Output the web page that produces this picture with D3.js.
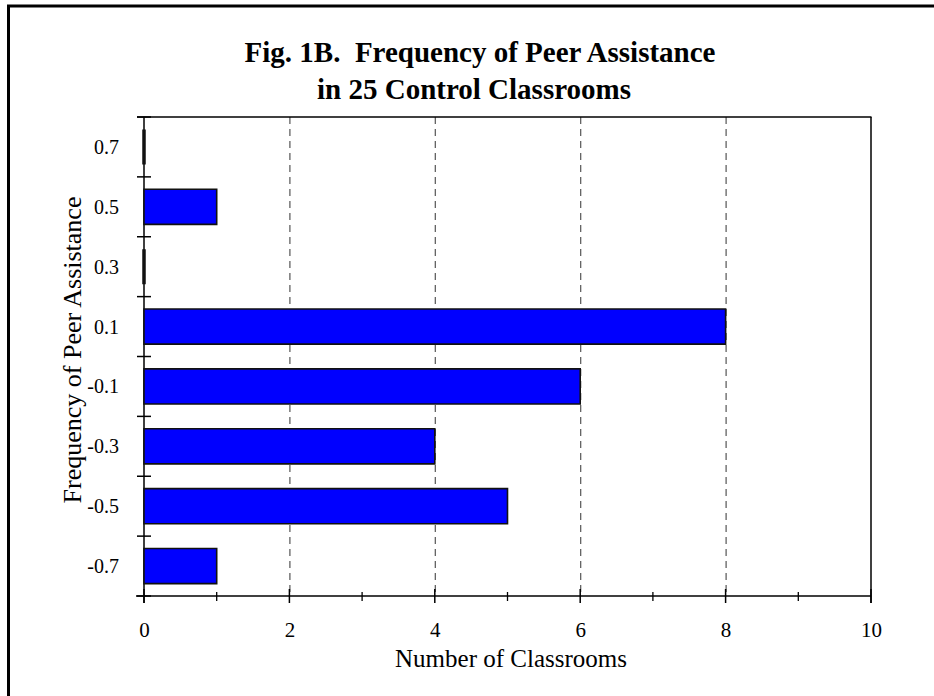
<!DOCTYPE html>
<html><head><meta charset="utf-8">
<script src="https://cdn.jsdelivr.net/npm/d3@7"></script>
<style>html,body{margin:0;padding:0;background:#fff;} svg{display:block;}</style>
</head><body>
<script>
const categories = ["0.7","0.5","0.3","0.1","-0.1","-0.3","-0.5","-0.7"];
const counts = [0,1,0,8,6,4,5,1];
const xTicks = [0,2,4,6,8,10];
const xMinorTicks = [1,3,5,7,9];
const gridValues = [2,4,6,8];
const titleLines = ["Fig. 1B.  Frequency of Peer Assistance","in 25 Control Classrooms"];
const xLabel = "Number of Classrooms";
const yLabel = "Frequency of Peer Assistance";

const W = 934, H = 696;
const m = {left:144, right:871, top:117, bottom:596};
const font = "'Liberation Serif','Times New Roman',serif";

const svg = d3.select("body").append("svg").attr("width",W).attr("height",H);
svg.append("rect").attr("width",W).attr("height",H).attr("fill","#fff");
// outer frame (extends beyond the picture on right/bottom)
svg.append("rect").attr("x",8.5).attr("y",6).attr("width",1200).attr("height",1200)
  .attr("fill","none").attr("stroke","#000").attr("stroke-width",3);

const x = d3.scaleLinear().domain([0,10]).range([m.left,m.right]);
const y = d3.scaleBand().domain(categories).range([m.top,m.bottom]).paddingInner(0.415).paddingOuter(0.2075);
const yStep = y.step();

// dashed gridlines
svg.append("g").selectAll("line").data(gridValues).join("line")
  .attr("x1",d=>x(d)+0.5).attr("x2",d=>x(d)+0.5).attr("y1",m.top).attr("y2",m.bottom)
  .attr("stroke","#555").attr("stroke-width",1.2).attr("stroke-dasharray","7,5");

// frame top + right
svg.append("line").attr("x1",m.left-7).attr("x2",m.right+0.5).attr("y1",m.top).attr("y2",m.top)
  .attr("stroke","#000").attr("stroke-width",1.5);
svg.append("line").attr("x1",m.right).attr("x2",m.right).attr("y1",m.top).attr("y2",m.bottom+7)
  .attr("stroke","#000").attr("stroke-width",1.5);

// x axis
const xAxis = d3.axisBottom(x).tickValues(xTicks).tickSize(0).tickPadding(0).tickFormat(d3.format("d"));
const gx = svg.append("g").attr("transform",`translate(0,${m.bottom})`).call(xAxis);
gx.select(".domain").remove();
gx.selectAll("text").attr("y",41).attr("dy",0).attr("font-family",font).attr("font-size",21).attr("fill","#000");
svg.append("line").attr("x1",m.left-8).attr("x2",m.right).attr("y1",m.bottom).attr("y2",m.bottom)
  .attr("stroke","#000").attr("stroke-width",1.5);
svg.append("g").selectAll("line").data(xTicks).join("line")
  .attr("x1",d=>x(d)).attr("x2",d=>x(d)).attr("y1",m.bottom-7).attr("y2",m.bottom+7)
  .attr("stroke","#000").attr("stroke-width",1.5);
svg.append("g").selectAll("line").data(xMinorTicks).join("line")
  .attr("x1",d=>x(d)).attr("x2",d=>x(d)).attr("y1",m.bottom-4).attr("y2",m.bottom+5)
  .attr("stroke","#000").attr("stroke-width",1.3);

// y axis
const yAxis = d3.axisLeft(y).tickSize(0).tickPadding(25);
const gy = svg.append("g").attr("transform",`translate(${m.left},0)`).call(yAxis);
gy.select(".domain").remove();
gy.selectAll("text").attr("font-family",font).attr("font-size",20).attr("fill","#000").attr("dy","0.35em");
svg.append("line").attr("x1",m.left).attr("x2",m.left).attr("y1",m.top).attr("y2",m.bottom+7)
  .attr("stroke","#000").attr("stroke-width",1.5);
const bounds = d3.range(categories.length+1).map(i=>m.top+i*yStep);
svg.append("g").selectAll("line").data(bounds).join("line")
  .attr("x1",m.left-7).attr("x2",m.left+7).attr("y1",d=>d).attr("y2",d=>d)
  .attr("stroke","#000").attr("stroke-width",1.5);

// bars (paths so that zero-length bars still show their outline)
svg.append("g").selectAll("path").data(categories).join("path")
  .attr("d",(d,i)=>{
    const x0 = x(0), x1 = x(counts[i]), y0 = y(d), y1 = y(d)+y.bandwidth();
    return `M${x0},${y0}H${x1}V${y1}H${x0}Z`;
  })
  .attr("fill","#0000ff").attr("stroke","#111")
  .attr("stroke-width",(d,i)=>counts[i]===0?3.5:1.6);

// title
const titleX = [480,474];
svg.append("g").selectAll("text").data(titleLines).join("text")
  .attr("x",(d,i)=>titleX[i]).attr("y",(d,i)=>62+i*37).attr("text-anchor","middle")
  .attr("font-family",font).attr("font-weight","bold").attr("font-size",29).attr("fill","#000")
  .style("white-space","pre").text(d=>d);

// axis labels
svg.append("text").attr("x",511).attr("y",667).attr("text-anchor","middle")
  .attr("font-family",font).attr("font-size",25).attr("fill","#000").text(xLabel);
svg.append("text").attr("transform",`translate(81,350) rotate(-90)`)
  .attr("text-anchor","middle").attr("font-family",font).attr("font-size",26).attr("fill","#000").text(yLabel);
</script>
</body></html>
